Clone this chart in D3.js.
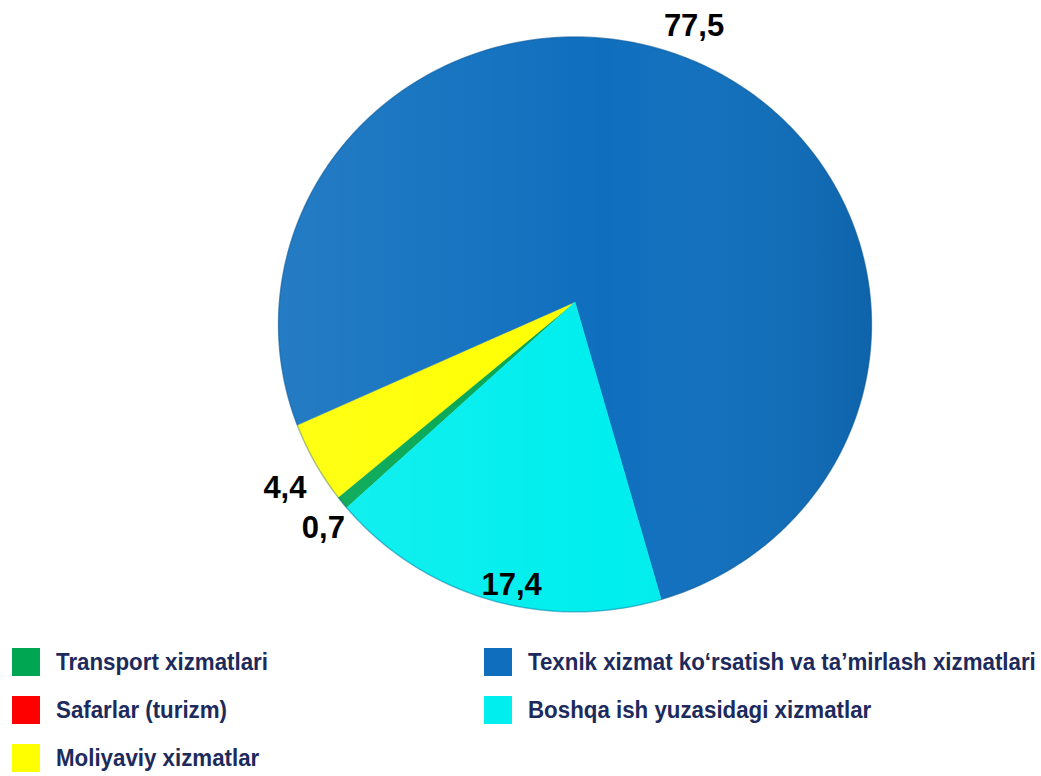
<!DOCTYPE html>
<html>
<head>
<meta charset="utf-8">
<script src="https://cdn.jsdelivr.net/npm/d3@7"></script>
<style>
  body { margin: 0; background: #fff; }
</style>
</head>
<body>
<script>
// xizmatlar ulushi, foizda
var categories = [
  'Transport xizmatlari',
  'Safarlar (turizm)',
  'Moliyaviy xizmatlar',
  'Texnik xizmat ko\u2018rsatish va ta\u2019mirlash xizmatlari',
  'Boshqa ish yuzasidagi xizmatlar'
];
var values = [0.7, 0, 4.4, 77.5, 17.4];
var colors = ['#00a651', '#ff0000', '#ffff00', '#0f6fbe', '#00eeee'];

var W = 1041, H = 776;
var svg = d3.select('body').append('svg')
  .attr('width', W)
  .attr('height', H);

// slightly tilted pie: perspective mapping of the unit disc
var g = {cx: 575, cy: 302, a: 295.6, b: 285.7, k: 0.078};
var proj = function(t, r){
  var u = r * Math.sin(t), v = -r * Math.cos(t);
  var w = 1 - g.k * v;
  return [g.cx + g.a * u / w, g.cy + g.b * v / w];
};

var start = 227 * Math.PI / 180;
var pie = d3.pie().sort(null).value(function(d){ return d.value; })
  .startAngle(start).endAngle(start + 2 * Math.PI);

var data = categories.map(function(c, i){ return {name: c, value: values[i], color: colors[i]}; });
var arcs = pie(data);

var line = d3.line();
var slicePath = function(d){
  var pts = [[g.cx, g.cy]];
  var n = Math.max(2, Math.ceil((d.endAngle - d.startAngle) / 0.01));
  for (var i = 0; i <= n; i++) {
    pts.push(proj(d.startAngle + (d.endAngle - d.startAngle) * i / n, 1));
  }
  return line(pts) + 'Z';
};

var defs = svg.append('defs');
var lg = defs.append('linearGradient').attr('id', 'shade')
  .attr('x1', '0%').attr('x2', '100%').attr('y1', '0%').attr('y2', '0%');
lg.append('stop').attr('offset', '0%').attr('stop-color', '#fff').attr('stop-opacity', 0.09);
lg.append('stop').attr('offset', '55%').attr('stop-color', '#fff').attr('stop-opacity', 0);
lg.append('stop').attr('offset', '100%').attr('stop-color', '#000').attr('stop-opacity', 0.1);

svg.append('g').selectAll('path')
  .data(arcs.filter(function(d){ return d.value > 0; }))
  .enter().append('path')
  .attr('d', slicePath)
  .attr('fill', function(d){ return d.data.color; })
  .attr('stroke', function(d){ return d.data.color; })
  .attr('stroke-width', 0.5);

// shading over the whole disc
var outline = d3.range(0, 361).map(function(i){ return proj(i * Math.PI / 180, 1); });
svg.append('path')
  .attr('d', line(outline) + 'Z')
  .attr('fill', 'url(#shade)')
  .attr('stroke', '#0b4f88')
  .attr('stroke-opacity', 0.35)
  .attr('stroke-width', 1.5);

// value labels
var fmt = d3.formatLocale({decimal: ',', thousands: ' ', grouping: [3], currency: ['', '']}).format('.1f');
var nudge = [[-19, 25], [0, 0], [-30, 25], [3, -34], [23, -15]];
svg.append('g').selectAll('text')
  .data(arcs.filter(function(d){ return d.value > 0; }))
  .enter().append('text')
  .attr('x', function(d){ var p = proj((d.startAngle + d.endAngle) / 2, 1); return p[0] + nudge[d.index][0]; })
  .attr('y', function(d){ var p = proj((d.startAngle + d.endAngle) / 2, 1); return p[1] + nudge[d.index][1]; })
  .attr('text-anchor', 'middle')
  .attr('dominant-baseline', 'central')
  .attr('font-family', 'Liberation Sans, Arial, sans-serif')
  .attr('font-weight', 'bold')
  .attr('font-size', 31)
  .attr('fill', '#000')
  .text(function(d){ return fmt(d.value); });

// legend, two columns
var cols = [12, 484];
var legend = svg.append('g').selectAll('g')
  .data(data)
  .enter().append('g')
  .attr('transform', function(d, i){
    var col = i < 3 ? 0 : 1, row = i < 3 ? i : i - 3;
    return 'translate(' + cols[col] + ',' + (648 + row * 48) + ')';
  });
legend.append('rect')
  .attr('width', 28).attr('height', 28)
  .attr('fill', function(d){ return d.color; });
// narrow-ish bold face: squeeze Liberation Sans a bit
legend.append('text')
  .attr('transform', 'translate(44,22) scale(0.93,1)')
  .attr('font-family', 'Liberation Sans, Arial, sans-serif')
  .attr('font-weight', 'bold')
  .attr('font-size', 24)
  .attr('fill', '#1c2a5c')
  .text(function(d){ return d.name; });
</script>
</body>
</html>
